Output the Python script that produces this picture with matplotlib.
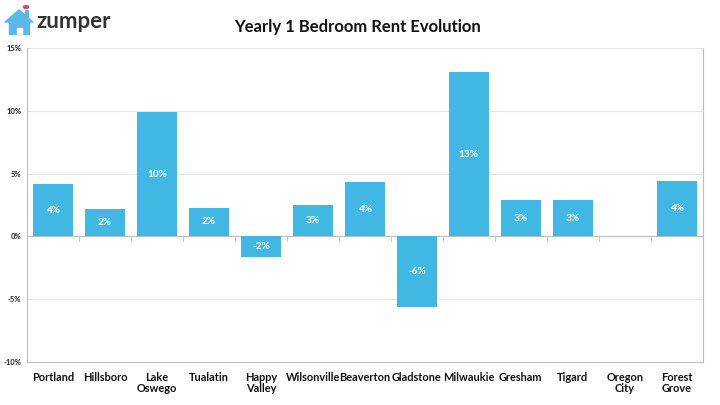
import matplotlib
matplotlib.use("Agg")
import matplotlib.pyplot as plt
from matplotlib.patches import Polygon, Rectangle, Circle
import numpy as np

cities = ["Portland", "Hillsboro", "Lake\nOswego", "Tualatin", "Happy\nValley",
          "Wilsonville", "Beaverton", "Gladstone", "Milwaukie", "Gresham",
          "Tigard", "Oregon\nCity", "Forest\nGrove"]
change = [4.2, 2.2, 9.9, 2.3, -1.6, 2.5, 4.3, -5.6, 13.1, 2.9, 2.9, 0.0, 4.4]
labels = ["4%", "2%", "10%", "2%", "-2%", "3%", "4%", "-6%", "13%", "3%", "3%", "", "4%"]
yticks = [-10, -5, 0, 5, 10, 15]

bar_color = "#41B8E4"
grid_color = "#E6E6E6"
spine_color = "#BDBDBD"

plt.rcParams["font.family"] = ["Lato", "DejaVu Sans"]

fig = plt.figure(figsize=(7.2, 4.05), dpi=100)
ax = fig.add_axes([0.0375, 0.106, 0.9385, 0.7755])

x = np.arange(len(cities))
ax.bar(x, change, width=0.77, color=bar_color, zorder=3)

for xi, v, lab in zip(x, change, labels):
    if lab:
        ax.text(xi, v / 2, lab, ha="center", va="center", color="white",
                fontsize=7.2, fontweight="bold", zorder=4)

ax.set_xlim(-0.5, len(cities) - 0.5)
ax.set_ylim(-10, 15)
ax.set_yticks(yticks)
ax.set_yticklabels([f"{t}%" for t in yticks], fontsize=5.5, fontweight="bold", color="#222222")
ax.yaxis.grid(True, color=grid_color, linewidth=0.8, zorder=0)
ax.tick_params(axis="y", length=0, pad=4)

ax.set_xticks(x)
ax.set_xticklabels(cities, fontsize=7.9, fontweight="bold", color="#111111", linespacing=1.05)
ax.tick_params(axis="x", length=0, pad=7)

# zero line with small separators between categories
ax.axhline(0, color=spine_color, linewidth=0.8, zorder=2)
for b in np.arange(0.5, len(cities) - 1, 1):
    ax.plot([b, b], [0, -0.35], color=spine_color, linewidth=0.6, zorder=2)

for side in ["left", "right", "bottom"]:
    ax.spines[side].set_color(spine_color)
    ax.spines[side].set_linewidth(0.8)
ax.spines["top"].set_visible(False)

fig.text(0.496, 0.933, "Yearly 1 Bedroom Rent Evolution", ha="center", va="center",
         fontsize=12, fontweight="bold", color="#111111")

# zumper logo
house_blue = "#5BB8E8"
fig.patches.append(Polygon([[5 / 720, 1 - 22 / 405], [19 / 720, 1 - 10 / 405], [33 / 720, 1 - 22 / 405]],
                           closed=True, color=house_blue, transform=fig.transFigure))
fig.patches.append(Rectangle((9 / 720, 1 - 34 / 405), 20 / 720, 13 / 405,
                             color=house_blue, transform=fig.transFigure))
fig.patches.append(Rectangle((16.5 / 720, 1 - 34 / 405), 5 / 720, 6 / 405,
                             color="white", transform=fig.transFigure))
fig.patches.append(Rectangle((25 / 720, 1 - 19 / 405), 3 / 720, 9 / 405,
                             color=house_blue, transform=fig.transFigure))
fig.patches.append(Circle((26 / 720, 1 - 7 / 405), 0.0035, color="#E8407A",
                          transform=fig.transFigure))
fig.text(36 / 720, 1 - 22 / 405, "zumper", ha="left", va="center", fontsize=16,
         fontweight="bold", color="#333333")

fig.savefig("out.png", dpi=100)
